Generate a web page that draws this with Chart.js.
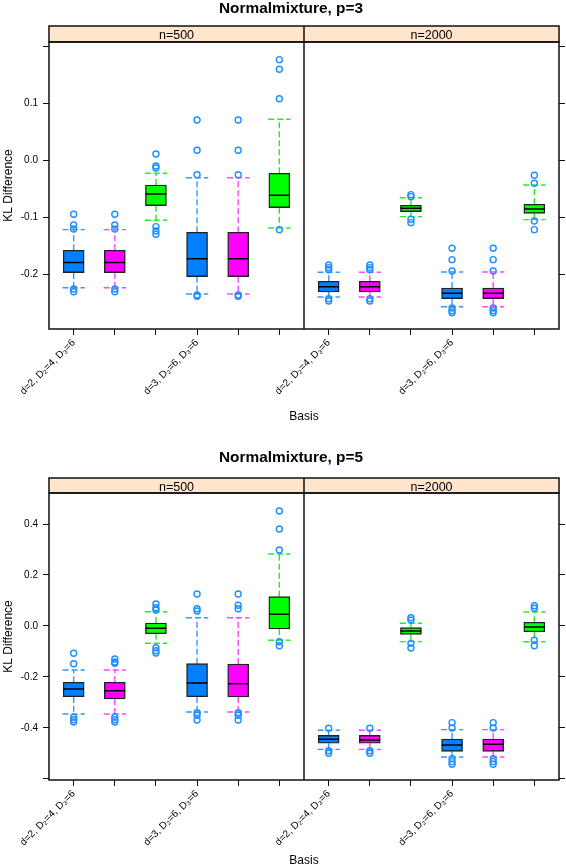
<!DOCTYPE html>
<html>
<head>
<meta charset="utf-8">
<script src="https://cdn.jsdelivr.net/npm/chart.js@4"></script>
<style>
  body { margin: 0; background: #fff; }
  .row { position: absolute; left: 0; width: 566px; height: 434px; }
</style>
</head>
<body>
<div class="row" style="top:0"><canvas id="p3" width="566" height="434"></canvas></div>
<div class="row" style="top:434px"><canvas id="p5" width="566" height="434"></canvas></div>
<script>
const basisLabels = ['d=2, D₂=4, D₃=6', '', '', 'd=3, D₂=6, D₃=6', '', ''];
const stripLabels = ['n=500', 'n=2000'];

// one box per row: [lower whisker, q1, median, q3, upper whisker]
const p3n500 = [
  [-0.224, -0.1975, -0.1796, -0.158, -0.1218],
  [-0.224, -0.1975, -0.1796, -0.158, -0.1218],
  [-0.1053, -0.0796, -0.059, -0.0431, -0.0225],
  [-0.235, -0.2046, -0.1729, -0.1264, -0.0303],
  [-0.235, -0.2046, -0.1729, -0.1264, -0.0303],
  [-0.1188, -0.0831, -0.0613, -0.0225, 0.0725]
];
const p3n500Out = [
  [-0.0947, -0.1136, -0.1206, -0.2262, -0.231],
  [-0.0947, -0.1136, -0.1206, -0.2262, -0.231],
  [0.0114, -0.0097, -0.0132, -0.1165, -0.1241, -0.13],
  [0.0713, 0.018, -0.025, -0.2368, -0.239],
  [0.0713, 0.018, -0.025, -0.2368, -0.239],
  [0.1775, 0.1606, 0.1088, -0.1218]
];
const p3n2000 = [
  [-0.2403, -0.2315, -0.2222, -0.2127, -0.1968],
  [-0.2403, -0.2315, -0.2222, -0.2127, -0.1968],
  [-0.0989, -0.0901, -0.0842, -0.0789, -0.0655],
  [-0.2574, -0.2433, -0.2338, -0.2245, -0.1963],
  [-0.2574, -0.2433, -0.2338, -0.2245, -0.1963],
  [-0.1042, -0.093, -0.0854, -0.0771, -0.0431]
];
const p3n2000Out = [
  [-0.184, -0.1887, -0.1923, -0.2433, -0.2474],
  [-0.184, -0.1887, -0.1923, -0.2433, -0.2474],
  [-0.0602, -0.0637, -0.1035, -0.1095],
  [-0.1546, -0.1746, -0.1945, -0.2597, -0.2644, -0.268],
  [-0.1546, -0.1746, -0.1945, -0.2597, -0.2644, -0.268],
  [-0.0261, -0.0401, -0.1065, -0.1218]
];
const p5n500 = [
  [-0.3451, -0.2773, -0.2471, -0.2208, -0.1725],
  [-0.3451, -0.2863, -0.2537, -0.2208, -0.1725],
  [-0.0678, -0.0302, -0.009, 0.0118, 0.0561],
  [-0.3373, -0.2773, -0.2235, -0.1478, 0.0325],
  [-0.3373, -0.2784, -0.2263, -0.149, 0.0325],
  [-0.0561, -0.0118, 0.0459, 0.1149, 0.2824]
];
const p5n500Out = [
  [-0.1071, -0.1478, -0.358, -0.3675, -0.3765],
  [-0.1294, -0.1412, -0.1463, -0.358, -0.3675, -0.3765],
  [0.0863, 0.0718, 0.0627, -0.0851, -0.0969, -0.1059],
  [0.1255, 0.0678, 0.0588, -0.34, -0.3502, -0.3686],
  [0.1255, 0.0812, 0.0678, -0.34, -0.3502, -0.3686],
  [0.451, 0.3804, 0.298, -0.0616, -0.0773]
];
const p5n2000 = [
  [-0.4837, -0.46, -0.4444, -0.4288, -0.409],
  [-0.4837, -0.46, -0.447, -0.4288, -0.409],
  [-0.0614, -0.0327, -0.0196, -0.0065, 0.0105],
  [-0.5137, -0.4915, -0.4667, -0.4431, -0.4065],
  [-0.5137, -0.4915, -0.464, -0.4431, -0.4065],
  [-0.0616, -0.0224, -0.0039, 0.0145, 0.0549]
];
const p5n2000Out = [
  [-0.4013, -0.489, -0.4993],
  [-0.4013, -0.489, -0.4993],
  [0.0325, 0.0235, -0.068, -0.0863],
  [-0.3791, -0.4, -0.5203, -0.5321, -0.5425],
  [-0.3791, -0.4, -0.5203, -0.5321, -0.5425],
  [0.0796, 0.0694, -0.0561, -0.0773]
];

const p3Ticks = [0.2, 0.1, 0.0, -0.1, -0.2];
const p3TickLabels = ['', '0.1', '0.0', '-0.1', '-0.2'];
const p5Ticks = [0.4, 0.2, 0.0, -0.2, -0.4, -0.6];
const p5TickLabels = ['0.4', '0.2', '0.0', '-0.2', '-0.4', ''];

const fills = ['#0080ff', '#ff00ff', '#00ff00'];
const dashes = ['#3399ff', '#ff44ff', '#22ee22'];
const shift = 6.2; // right panel sits 6.2 units further along the x scale

Chart.defaults.font.family = '"Liberation Sans", Arial, Helvetica, sans-serif';
Chart.defaults.color = '#000';

const panels = {
  id: 'panels',
  afterDraw(chart, args, o) {
    const {ctx, chartArea: a, scales: {x}} = chart;
    const mid = Math.round(x.getPixelForValue(6.6));
    ctx.save();
    ctx.fillStyle = '#ffe5cc';
    ctx.fillRect(a.left, o.stripTop, a.right - a.left, a.top - o.stripTop);
    ctx.strokeStyle = '#111';
    ctx.lineWidth = 1.5;
    ctx.strokeRect(a.left, o.stripTop, a.right - a.left, a.top - o.stripTop);
    ctx.strokeRect(a.left, a.top, a.right - a.left, a.bottom - a.top);
    ctx.beginPath();
    ctx.moveTo(mid, o.stripTop);
    ctx.lineTo(mid, a.bottom);
    ctx.stroke();
    ctx.fillStyle = '#000';
    ctx.textAlign = 'center';
    ctx.textBaseline = 'alphabetic';
    ctx.font = '12.5px "Liberation Sans", Arial, sans-serif';
    ctx.fillText(stripLabels[0], (a.left + mid) / 2, o.stripBase);
    ctx.fillText(stripLabels[1], (mid + a.right) / 2, o.stripBase);
    ctx.font = 'bold 15.4px "Liberation Sans", Arial, sans-serif';
    ctx.fillText(o.title, 291, o.titleBase);
    ctx.restore();
  }
};

function build(id, o) {
  const boxes = [], boxColors = [], meds = [], outs = [];
  const whisk = [[], [], []];
  [o.left, o.right].forEach((panel, p) => panel.forEach((b, i) => {
    const x = i + 1 + p * shift;
    boxes.push({x: x, y: [b[1], b[3]]});
    boxColors.push(fills[i % 3]);
    meds.push({x: x - 0.25, y: b[2]}, {x: x + 0.25, y: b[2]}, {x: x, y: null});
    whisk[i % 3].push(
      {x: x, y: b[3]}, {x: x, y: b[4]}, {x: x, y: null},
      {x: x - 0.27, y: b[4]}, {x: x + 0.27, y: b[4]}, {x: x, y: null},
      {x: x, y: b[1]}, {x: x, y: b[0]}, {x: x, y: null},
      {x: x - 0.27, y: b[0]}, {x: x + 0.27, y: b[0]}, {x: x, y: null}
    );
  }));
  [o.leftOut, o.rightOut].forEach((panel, p) => panel.forEach((vals, i) => {
    vals.forEach(v => outs.push({x: i + 1 + p * shift, y: v}));
  }));

  const xTicks = [1, 2, 3, 4, 5, 6, 7.2, 8.2, 9.2, 10.2, 11.2, 12.2];
  const yAxis = (pos) => ({
    position: pos, min: o.yMin, max: o.yMax,
    afterBuildTicks: s => { s.ticks = o.yTicks.map(v => ({value: v})); },
    afterFit: s => { s.width = pos === 'left' ? 49 : 7; },
    grid: {drawOnChartArea: false, tickLength: 6, color: '#111'},
    border: {display: false},
    ticks: {padding: 5, font: {size: 10},
      callback: (v, i) => pos === 'left' ? o.yLabels[i] : ''},
    title: {display: pos === 'left', text: 'KL Difference', font: {size: 12},
      padding: {top: 1, bottom: 0}}
  });

  new Chart(document.getElementById(id), {
    type: 'bar',
    data: {
      datasets: [
        {type: 'scatter', data: outs, order: 0, pointStyle: 'circle', pointRadius: 3,
          borderColor: '#1f8fff', backgroundColor: 'rgba(0,0,0,0)', borderWidth: 1.4},
        {type: 'line', data: meds, order: 1, borderColor: '#000', borderWidth: 1.4,
          pointRadius: 0, spanGaps: false},
        {data: boxes, order: 2, backgroundColor: boxColors, borderColor: '#222',
          borderWidth: 1.4, barThickness: 21, borderSkipped: false},
        ...whisk.map((w, k) => ({type: 'line', data: w, order: 3, borderColor: dashes[k],
          borderWidth: 1.4, borderDash: [6, 3], pointRadius: 0, spanGaps: false}))
      ]
    },
    options: {
      responsive: false,
      animation: false,
      layout: {padding: {top: o.padTop, left: 0, right: 0, bottom: 0}},
      plugins: {
        legend: {display: false},
        tooltip: {enabled: false},
        panels: o
      },
      scales: {
        x: {
          type: 'linear', min: 0.4, max: 12.8, offset: false,
          afterBuildTicks: s => { s.ticks = xTicks.map(v => ({value: v})); },
          afterFit: s => { s.height = o.xHeight; },
          grid: {drawOnChartArea: false, tickLength: 6, color: '#111', offset: false},
          border: {display: false},
          ticks: {autoSkip: false, minRotation: 45, maxRotation: 45, padding: 2,
            font: {size: 10}, callback: (v, i) => basisLabels[i % 6]},
          title: {display: true, text: 'Basis', font: {size: 12},
            padding: {top: 0, bottom: o.basisPad}}
        },
        y: yAxis('left'),
        y2: yAxis('right')
      }
    },
    plugins: [panels]
  });
}

build('p3', {
  title: 'Normalmixture, p=3', titleBase: 13, stripTop: 26, stripBase: 38.5,
  padTop: 42, xHeight: 105, basisPad: 10,
  left: p3n500, leftOut: p3n500Out, right: p3n2000, rightOut: p3n2000Out,
  yMin: -0.2967, yMax: 0.2086, yTicks: p3Ticks, yLabels: p3TickLabels
});
build('p5', {
  title: 'Normalmixture, p=5', titleBase: 28.3, stripTop: 44, stripBase: 57,
  padTop: 59, xHeight: 88, basisPad: 0,
  left: p5n500, leftOut: p5n500Out, right: p5n2000, rightOut: p5n2000Out,
  yMin: -0.604, yMax: 0.5216, yTicks: p5Ticks, yLabels: p5TickLabels
});
</script>
</body>
</html>
